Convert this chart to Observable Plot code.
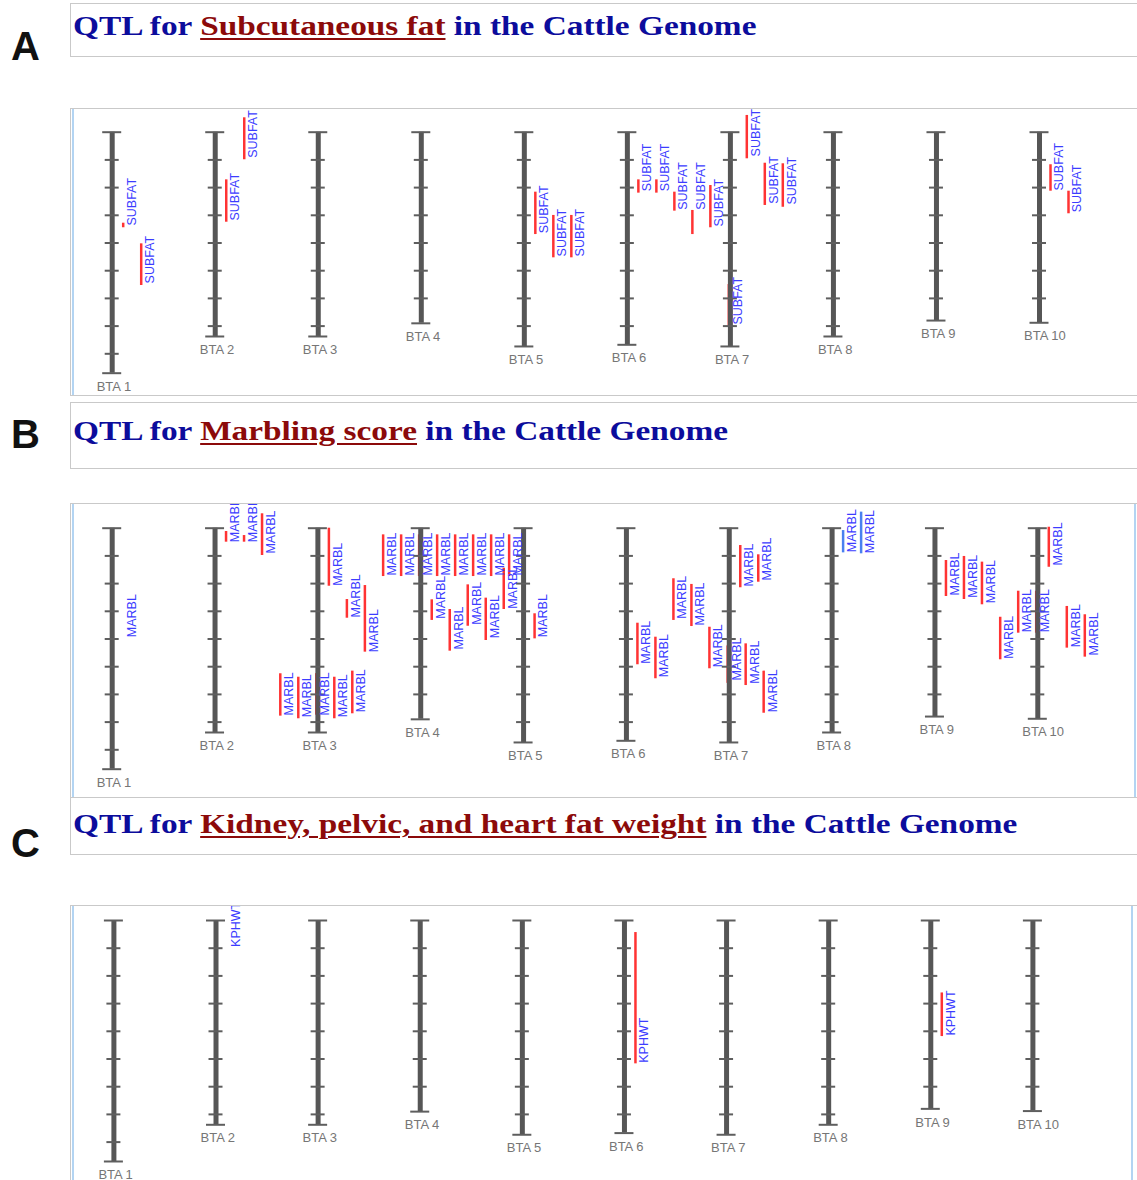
<!DOCTYPE html>
<html><head><meta charset="utf-8">
<script src="https://cdn.jsdelivr.net/npm/d3@7"></script>
<script src="https://cdn.jsdelivr.net/npm/@observablehq/plot@0.6"></script>
<style>
body{margin:0;background:#fff;}
#page{position:relative;width:1137px;height:1180px;overflow:hidden;background:#fff;}
.letter{position:absolute;left:11px;font-family:"Liberation Sans",Arial,sans-serif;font-weight:700;font-size:40px;line-height:40px;color:#111;}
.tbox{position:absolute;left:70px;width:1100px;border:1px solid #c9c9c9;box-sizing:border-box;background:#fff;}
.title{position:absolute;left:73px;font-family:"Liberation Serif","Times New Roman",serif;font-weight:700;font-size:28px;line-height:28px;color:#0c0c9c;white-space:nowrap;transform:scaleX(1.19);transform-origin:0 0;}
.title u{color:#8c0a0a;text-decoration-thickness:2px;text-underline-offset:3px;}
.cbox{position:absolute;left:70px;width:1100px;border:1px solid #c9c9c9;box-sizing:border-box;}
.blue{position:absolute;width:2px;background:#b3d4f2;}
.chart{position:absolute;left:70px;width:1067px;overflow:hidden;}
</style></head><body><div id="page"></div>
<script>
// Chromosomes (BTA 1 - BTA 10) and their lengths in cM
const chromNames = ["BTA 1","BTA 2","BTA 3","BTA 4","BTA 5","BTA 6","BTA 7","BTA 8","BTA 9","BTA 10"];
const chromLengths = [174, 147.5, 147.5, 138, 154.7, 153.5, 154.7, 147.5, 136, 137.6];
const tickStepCM = 20;

// Trait titles and abbreviations
const traitNames = ["Subcutaneous fat", "Marbling score", "Kidney, pelvic, and heart fat weight"];
const traitAbbrev = ["SUBFAT", "MARBL", "KPHWT"];

// QTL records: [chromosome, lane, start cM, end cM, peak cM, kind]
const subfatQTL = [
  [1, 1, 65.7, 69.0, 67.4],
  [1, 2, 80.6, 110.7, 109.2],
  [2, 1, 34.4, 65.0, 63.8],
  [2, 2, -10.4, 19.9, 18.5],
  [5, 1, 43.3, 73.9, 72.9],
  [5, 2, 60.1, 90.7, 89.7],
  [5, 3, 60.1, 90.7, 89.7],
  [6, 1, 34.4, 44.0, 42.6],
  [6, 2, 34.4, 44.0, 42.6],
  [6, 3, 43.3, 57.0, 56.0],
  [6, 4, 56.5, 73.9, 56.0],
  [6, 5, 38.5, 69.0, 68.1],
  [7, 0.3, 110, 140, 138.9],
  [7, 1.3, -12.1, 19.2, 17.5],
  [7, 2.3, 22.4, 52.9, 51.7],
  [7, 3.3, 22.8, 54.2, 52.2],
  [10, 1, 23.5, 42.6, 42.1],
  [10, 2, 42.6, 58.9, 57.8]
];
const marblQTL = [
  [1, 1, 78.7, 78.7, 78.7],
  [2, 1, 2.4, 10.1, 10.1],
  [2, 2, 5.3, 10.1, 10.1],
  [2, 3, -10.4, 19.7, 18.3],
  [3, 1, 0, 41.9, 41.6],
  [3, 2, 51.5, 65.0, 64.4],
  [3, 3, 41.4, 89.5, 89.5],
  [3, -1.7, 105.1, 135.7, 135.2],
  [3, -0.7, 107.6, 137.6, 136.5],
  [3, 0.3, 105.0, 135.0, 135.2],
  [3, 1.3, 107.6, 137.6, 136.5],
  [3, 2.3, 103.2, 134.0, 132.9],
  [4, -1.7, 4.8, 34.9, 34.2],
  [4, -0.7, 4.8, 34.9, 34.2],
  [4, 0.3, 4.8, 34.9, 34.2],
  [4, 1.3, 4.8, 34.9, 34.2],
  [4, 2.3, 4.8, 34.9, 34.2],
  [4, 3.3, 4.8, 34.9, 34.2],
  [4, 4.3, 4.8, 34.9, 34.2],
  [4, 5.3, 4.8, 34.9, 34.2],
  [4, 1, 51.7, 66.6, 65.4],
  [4, 2, 58.7, 88.8, 87.6],
  [4, 3, 40.9, 70.8, 69.8],
  [4, 4, 50.5, 81.1, 79.4],
  [4, 5, 28.9, 58.7, 58.2],
  [5, 1, 61.8, 79.9, 78.7],
  [6, 1, 68.6, 98.6, 97.9],
  [6, 2, 78.7, 108.7, 107.6],
  [6, 3, 36.5, 66.6, 65.4],
  [6, 4, 40.6, 71.0, 70.3],
  [6, 5, 71.5, 101.5, 100.4],
  [7, 1, 12.5, 43.0, 42.1],
  [7, 2, 19.2, 39.0, 37.8],
  [7, 0.3, 85.0, 112.0, 110.0],
  [7, 1.3, 83.5, 113.6, 112.3],
  [7, 2.3, 103.2, 133.6, 132.9],
  [8, 1, 1.7, 17.8, 17.3, "sug"],
  [8, 2, -11.6, 18.5, 18.0, "sug"],
  [9, 1, 23.3, 49.3, 48.6],
  [9, 2, 20.4, 51.5, 50.3],
  [9, 3, 24.5, 55.3, 54.1],
  [10, 1, -0.7, 28.2, 26.9],
  [10, -1.7, 64.3, 95.0, 94.3],
  [10, -0.7, 45.5, 75.8, 75.1],
  [10, 0.3, 45.5, 75.8, 75.1],
  [10, 2, 56.5, 86.6, 85.9],
  [10, 3, 62.5, 93.1, 91.9]
];
const kphwtQTL = [
  [2, 1, 19.1, 19.1, 19.1],
  [6, 1, 8.7, 103.5, 102.7],
  [9, 1, 52.3, 83.8, 83.1]
];

const panelLetters = ["A", "B", "C"];

const page = document.getElementById("page");
function el(tag, cls, css, html) {
  const e = document.createElement(tag);
  if (cls) e.className = cls;
  Object.assign(e.style, css);
  if (html != null) e.innerHTML = html;
  page.appendChild(e);
  return e;
}

const cmPx = 1.385;
function drawPanel(qtl, trait, top, height, x0, x10, chromTop) {
  const u = (x10 - x0) / 9;
  const chroms = chromNames.map((name, i) => ({chr: i + 1, name, len: chromLengths[i]}));
  const ticks = chroms.flatMap(c => d3.range(tickStepCM, c.len - 1, tickStepCM).map(y => ({chr: c.chr, y})));
  const caps = chroms.flatMap(c => [{chr: c.chr, y: 0}, {chr: c.chr, y: c.len}]);
  const rows = qtl.map(([chr, lane, start, end, peak, kind = "sig"]) =>
    ({x: chr + (18 * lane - 7) / u, start, end, peak, kind}));
  return Plot.plot({
    width: 1067, height, margin: 0,
    style: {background: "transparent", fontFamily: "Liberation Sans, Arial, sans-serif", overflow: "hidden"},
    x: {type: "linear", domain: [1, 10], range: [x0 - 70, x10 - 70], axis: null},
    y: {type: "linear", domain: [0, 100], range: [chromTop - top, chromTop - top + 100 * cmPx], axis: null},
    color: {domain: ["sig", "sug"], range: ["#ff3333", "#4a80f0"]},
    marks: [
      Plot.ruleX(rows, {x: "x", y1: "start", y2: "end", stroke: "kind", strokeWidth: 2.5}),
      Plot.ruleX(chroms, {x: "chr", y1: 0, y2: "len", stroke: "#565656", strokeWidth: 5}),
      Plot.ruleY(ticks, {y: "y", x1: d => d.chr - 7 / u, x2: d => d.chr + 7 / u, stroke: "#5e5e5e", strokeWidth: 2}),
      Plot.ruleY(caps, {y: "y", x1: d => d.chr - 9.5 / u, x2: d => d.chr + 9.5 / u, stroke: "#5e5e5e", strokeWidth: 2}),
      Plot.text(chroms, {x: "chr", y: "len", text: "name", textAnchor: "start", dx: -15.5, dy: 13.5, fill: "#767676", fontSize: 13}),
      Plot.text(rows, {x: "x", y: "peak", text: () => trait, rotate: -90, textAnchor: "start", lineAnchor: "top", dx: 4, fill: "#3c3cff", fontSize: 12.5})
    ]
  });
}

const panels = [
  {qtl: subfatQTL, tTop: 3, tH: 54, titleTop: 11.5, letterTop: 25.6, cTop: 108, cH: 288, chromTop: 131.7, x0: 111.7, x10: 1039, rightBlue: null, noBottom: false},
  {qtl: marblQTL, tTop: 402, tH: 67, titleTop: 416.5, letterTop: 413.8, cTop: 503, cH: 297, chromTop: 527.7, x0: 111.7, x10: 1037.3, rightBlue: 1133.5, noBottom: true},
  {qtl: kphwtQTL, tTop: 797, tH: 58, titleTop: 809.5, letterTop: 822.6, cTop: 905, cH: 290, chromTop: 920, x0: 113.4, x10: 1032.4, rightBlue: 1131, noBottom: false}
];

panels.forEach((p, i) => {
  const h = Math.min(p.cH, 1180 - p.cTop);
  const holder = el("div", "chart", {top: p.cTop + "px", height: h + "px"});
  holder.appendChild(drawPanel(p.qtl, traitAbbrev[i], p.cTop, h, p.x0, p.x10, p.chromTop));
  el("div", "cbox", {top: p.cTop + "px", height: p.cH + "px", borderBottom: p.noBottom ? "none" : "1px solid #c9c9c9"});
  el("div", "blue", {left: "72px", top: (p.cTop + 1) + "px", height: (p.cH - 2) + "px"});
  if (p.rightBlue) el("div", "blue", {left: p.rightBlue + "px", top: (p.cTop + 1) + "px", height: (p.cH - 2) + "px"});
  el("div", "tbox", {top: p.tTop + "px", height: p.tH + "px"});
  el("div", "title", {top: p.titleTop + "px"}, `QTL for <u>${traitNames[i]}</u> in the Cattle Genome`);
  el("div", "letter", {top: p.letterTop + "px"}, panelLetters[i]);
});
</script></body></html>
